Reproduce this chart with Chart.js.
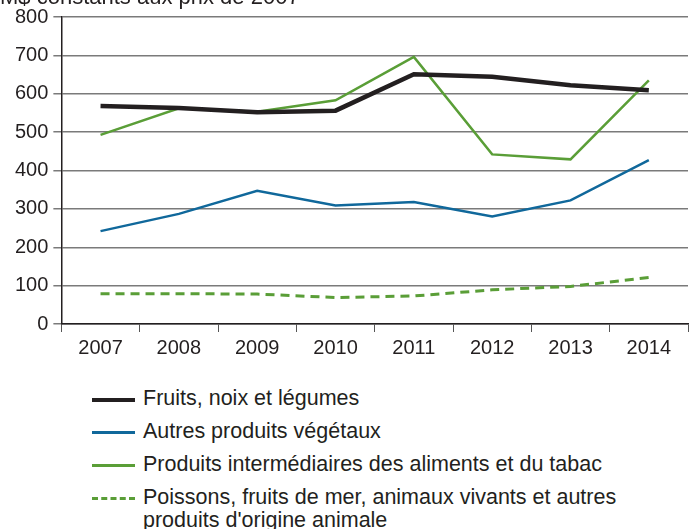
<!DOCTYPE html>
<html>
<head>
<meta charset="utf-8">
<script src="https://cdn.jsdelivr.net/npm/chart.js@4.4.1/dist/chart.umd.min.js"></script>
<style>
  body { margin: 0; background: #fff; width: 700px; height: 529px; overflow: hidden; font-family: "Liberation Sans", Arial, sans-serif; color: #231f20; }
  #wrap { position: absolute; left: 0; top: 0; width: 700px; height: 364px; }
  #legend { position: absolute; left: 92px; top: 387px; width: 530px; }
  .item { display: flex; align-items: flex-start; margin-bottom: 10px; font-size: 21.5px; line-height: 23px; }
  .swatch { width: 43px; flex: none; margin-right: 8px; margin-top: 11px; }
</style>
</head>
<body>
<div id="wrap"><canvas id="chart"></canvas></div>
<div id="legend"></div>
<script>
// data
let years = ["2007", "2008", "2009", "2010", "2011", "2012", "2013", "2014"];
let fruits = [568, 563, 552, 556, 651, 644, 622, 609];
let vegetaux = [242, 287, 347, 309, 318, 280, 322, 427];
let intermediaires = [493, 562, 553, 583, 696, 442, 429, 635];
let poissons = [79, 79, 78, 69, 73, 89, 98, 121];
let yTicks = [0, 100, 200, 300, 400, 500, 600, 700, 800];
let yTitle = "M$ constants aux prix de 2007";

let black = "#231f20";
let blue = "#10689b";
let green = "#5a9e37";
let font = "'Liberation Sans', Arial, sans-serif";

// title sits partly above the top edge like in the original
const titlePlugin = {
    id: "topTitle",
    afterDraw(chart) {
        let ctx = chart.ctx;
        ctx.save();
        ctx.font = "22px " + font;
        ctx.fillStyle = black;
        ctx.textBaseline = "alphabetic";
        ctx.fillText(yTitle, 0, 4);
        ctx.restore();
    }
};

let datasets = [
    { label: "Fruits, noix et légumes", data: fruits, borderColor: black, borderWidth: 4.5, dash: [] },
    { label: "Autres produits végétaux", data: vegetaux, borderColor: blue, borderWidth: 2.5, dash: [] },
    { label: "Produits intermédiaires des aliments et du tabac", data: intermediaires, borderColor: green, borderWidth: 2.5, dash: [] },
    { label: "Poissons, fruits de mer, animaux vivants et autres produits d'origine animale", data: poissons, borderColor: green, borderWidth: 3, dash: [9, 6] }
];

let ctx = document.getElementById("chart").getContext("2d");
new Chart(ctx, {
    type: "line",
    data: {
        labels: years,
        datasets: datasets.map(d => ({
            label: d.label,
            data: d.data,
            borderColor: d.borderColor,
            borderWidth: d.borderWidth,
            borderDash: d.dash,
            pointRadius: 0,
            tension: 0,
            fill: false
        }))
    },
    options: {
        responsive: true,
        maintainAspectRatio: false,
        animation: false,
        layout: { padding: { left: 10, right: 12, top: 9, bottom: 0 } },
        plugins: { legend: { display: false }, tooltip: { enabled: false } },
        scales: {
            x: {
                offset: true,
                grid: { offset: true, drawOnChartArea: false, drawTicks: true, tickLength: 8, color: "#555" },
                border: { color: black, width: 1.5 },
                ticks: { color: black, padding: 4, font: { size: 20, family: font } }
            },
            y: {
                min: 0,
                max: 800,
                afterBuildTicks: axis => { axis.ticks = yTicks.map(v => ({ value: v })); },
                grid: { color: "#7a7a7a", lineWidth: 1.5, tickLength: 8 },
                border: { color: black, width: 1.5 },
                ticks: { color: black, padding: 5, font: { size: 20, family: font } }
            }
        }
    },
    plugins: [titlePlugin]
});

// legend built from the same datasets
let legend = document.getElementById("legend");
datasets.forEach(d => {
    let row = document.createElement("div");
    row.className = "item";
    let sw = document.createElement("div");
    sw.className = "swatch";
    if (d.dash.length) {
        sw.style.height = "0";
        sw.style.borderTop = "3px dashed " + d.borderColor;
    } else {
        sw.style.height = (d.borderWidth > 4 ? 4 : 2.5) + "px";
        sw.style.background = d.borderColor;
    }
    let txt = document.createElement("div");
    txt.textContent = d.label;
    row.appendChild(sw);
    row.appendChild(txt);
    legend.appendChild(row);
});
</script>
</body>
</html>
